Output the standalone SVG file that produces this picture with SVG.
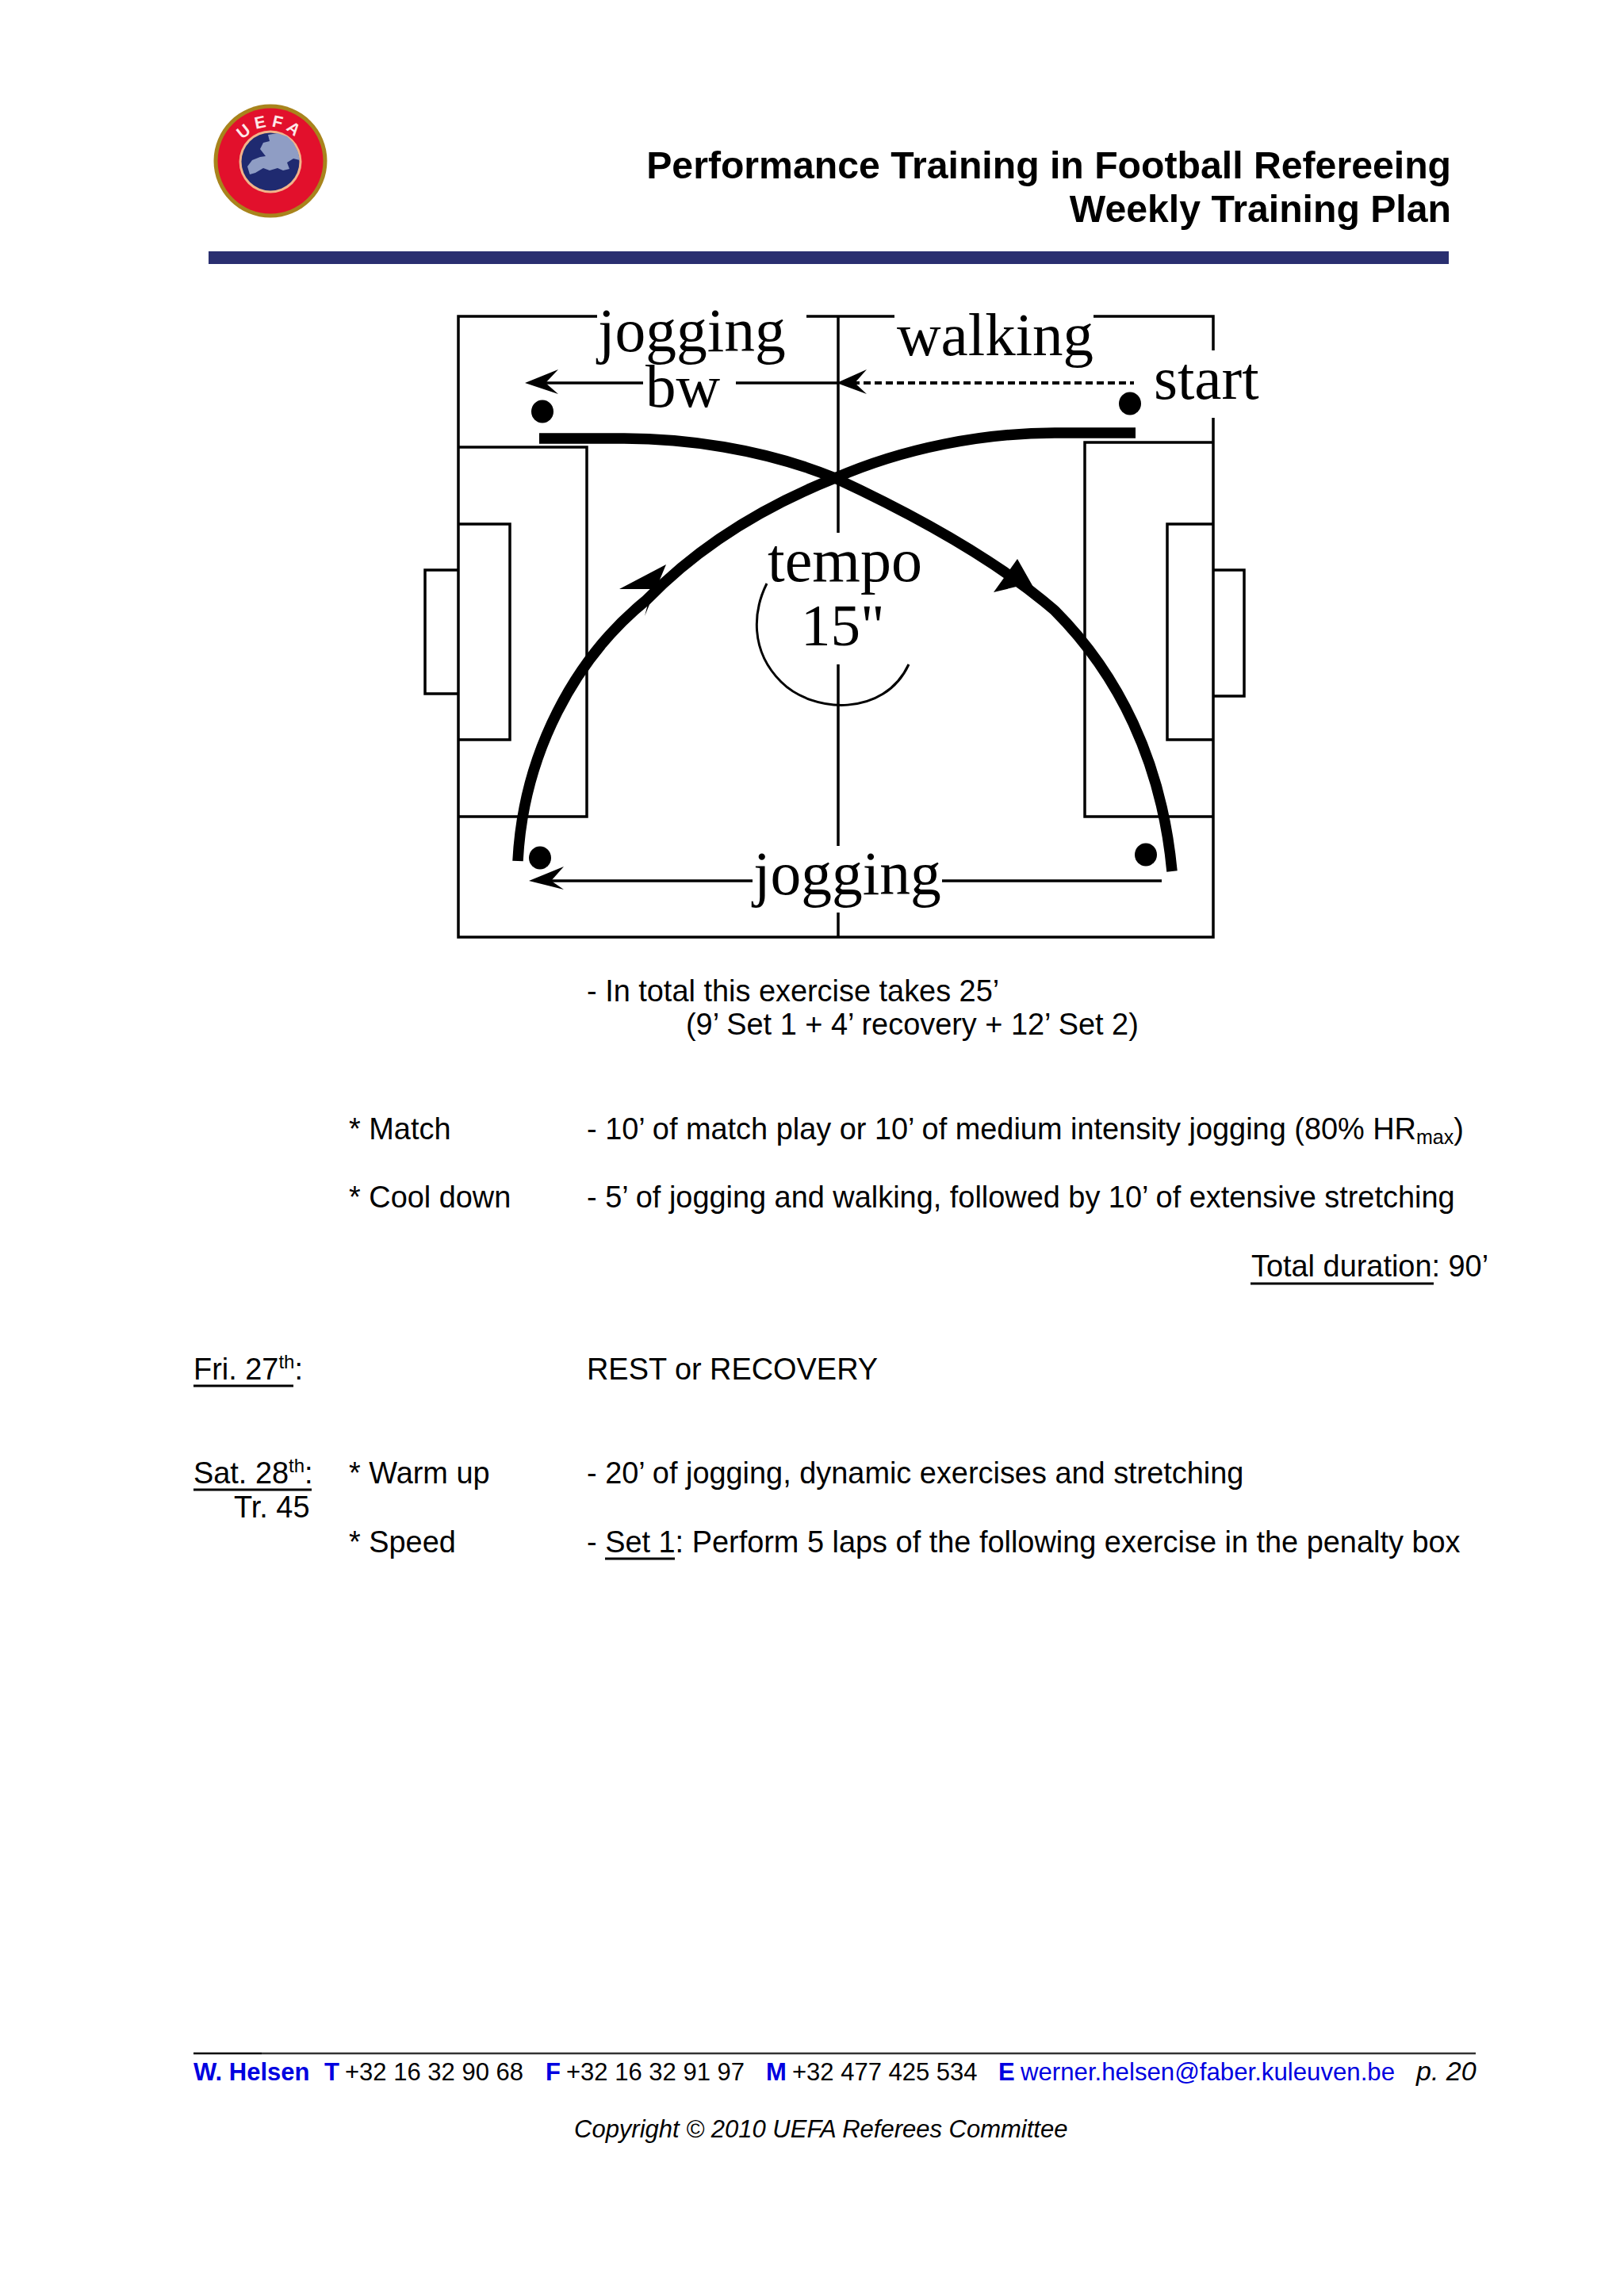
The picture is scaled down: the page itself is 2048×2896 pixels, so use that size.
<svg xmlns="http://www.w3.org/2000/svg" width="2048" height="2896" viewBox="0 0 2048 2896">
<style>
.b{font-family:"Liberation Sans",Arial,sans-serif;font-size:37.9px;fill:#000}
.h{font-family:"Liberation Sans",Arial,sans-serif;font-size:48.2px;font-weight:bold;fill:#000;text-anchor:end}
.t{font-family:"Liberation Serif","Times New Roman",serif;font-size:77px;fill:#000}
.f{font-family:"Liberation Sans",Arial,sans-serif;font-size:31px;fill:#000}
.fb{font-weight:bold;fill:#0000e0}
.m{fill:none;stroke:#000;stroke-width:3.5}
.k{fill:none;stroke:#000;stroke-width:13.5;stroke-linejoin:round}
.a{fill:#000;stroke:none}
.u{stroke:#000;stroke-width:3}
</style>
<rect width="2048" height="2896" fill="#fff"/>
<g id="logo">
<circle cx="341" cy="203" r="71.5" fill="#a8841c"/>
<circle cx="341" cy="203" r="66.5" fill="#e2102c"/>
<circle cx="341" cy="204" r="39.500" fill="#f2b48a"/>
<circle cx="341" cy="204" r="36.500" fill="#1f2a70"/>
<path d="M338 170L350 168L362 172L370 180L376 192L378 202L370 200L362 205L365 213L357 215L350 212L340 215L332 212L322 218L315 220L312 210L318 202L328 198L335 197L328 188L332 180L340 178Z" fill="#8f9dc4"/>
<path id="logoArc" d="M297 204A44 44 0 0 1 385 204" fill="none"/>
<text font-family="'Liberation Sans',Arial,sans-serif" font-size="21" font-weight="bold" fill="#fde8e8" letter-spacing="6" text-anchor="middle"><textPath href="#logoArc" startOffset="50%">UEFA</textPath></text>
</g>
<g id="header">
<text class="h" x="1830" y="225">Performance Training in Football Refereeing</text>
<text class="h" x="1830" y="280">Weekly Training Plan</text>
<rect x="263" y="317" width="1564" height="16" fill="#2a2f70"/>
</g>
<g id="pitch">
<path class="m" d="M753 399H578V1182H1530V527M1530 442V399H1379M1128 399H1017"/>
<path class="m" d="M578 564H740V1030H578"/>
<path class="m" d="M1530 558H1368V1030H1530"/>
<path class="m" d="M578 661H643V933H578"/>
<path class="m" d="M1530 661H1472V933H1530"/>
<path class="m" d="M578 719H536V875H578"/>
<path class="m" d="M1530 719H1569V878H1530"/>
<path class="m" d="M1057 399V672M1057 838V1067M1057 1151V1182"/>
<path class="m" style="stroke-width:3" d="M967 736C950 770 945 820 985 860C1025 900 1115 905 1146 838"/>
</g>
<g id="connectors">
<path class="m" d="M680 483H811M928 483H1057"/>
<path class="m" style="stroke-width:4" stroke-dasharray="9 5" d="M1075 483H1430"/>
<path class="a" d="M662 483L704 466L688 483L704 497Z"/>
<path class="a" d="M1055 483L1093 466L1078 483L1093 497Z"/>
<path class="m" d="M690 1111H949M1188 1111H1465"/>
<path class="a" d="M667 1111L711 1093L695 1111L711 1122Z"/>
<path class="k" d="M680 553H787C860 553 960 565 1053 603C1150 648 1255 705 1330 770C1410 850 1465 960 1478 1099"/>
<path class="k" d="M1432 546H1330C1240 546 1140 565 1053 603C960 640 880 690 815 757C725 830 660 950 653 1086"/>
<path class="a" d="M840 712L781 743L822 743L813 777Z"/>
<path class="a" d="M1283 705L1253 747L1290 738L1313 758Z"/>
</g>
<g id="markers">
<ellipse cx="684" cy="519" rx="14" ry="14.500"/>
<ellipse cx="1425" cy="509" rx="14" ry="14.500"/>
<ellipse cx="681" cy="1082" rx="14" ry="14.500"/>
<ellipse cx="1445" cy="1078" rx="14" ry="14.500"/>
</g>
<g id="pitch-labels">
<text class="t" x="754" y="443" style="font-size:77.5px">jogging</text>
<text class="t" x="814" y="513">bw</text>
<text class="t" x="1131" y="448">walking</text>
<text class="t" x="1455" y="503">start</text>
<text class="t" x="968" y="733" style="font-size:78px">tempo</text>
<text class="t" x="1010" y="814" style="font-size:75px">15"</text>
<text class="t" x="950" y="1128" style="font-size:77.5px">jogging</text>
</g>
<g id="body">
<text class="b" x="740" y="1263">- In total this exercise takes 25’</text>
<text class="b" x="865" y="1305">(9’ Set 1 + 4’ recovery + 12’ Set 2)</text>
<text class="b" x="440" y="1437">* Match</text>
<text class="b" x="740" y="1437">- 10’ of match play or 10’ of medium intensity jogging (80% HR<tspan font-size="25" dy="6">max</tspan><tspan dy="-6">)</tspan></text>
<text class="b" x="440" y="1523">* Cool down</text>
<text class="b" x="740" y="1523">- 5’ of jogging and walking, followed by 10’ of extensive stretching</text>
<text class="b" x="1578" y="1610">Total duration: 90’</text>
<line class="u" x1="1577" y1="1619" x2="1808" y2="1619"/>
<text class="b" x="244" y="1740">Fri. 27<tspan font-size="24" dy="-14">th</tspan><tspan dy="14">:</tspan></text>
<line class="u" x1="244" y1="1748" x2="370" y2="1748"/>
<text class="b" x="740" y="1740">REST or RECOVERY</text>
<text class="b" x="244" y="1871">Sat. 28<tspan font-size="24" dy="-14">th</tspan><tspan dy="14">:</tspan></text>
<line class="u" x1="244" y1="1879" x2="393" y2="1879"/>
<text class="b" x="295" y="1914">Tr. 45</text>
<text class="b" x="440" y="1871">* Warm up</text>
<text class="b" x="740" y="1871">- 20’ of jogging, dynamic exercises and stretching</text>
<text class="b" x="440" y="1958">* Speed</text>
<text class="b" x="740" y="1958">- Set 1: Perform 5 laps of the following exercise in the penalty box</text>
<line class="u" x1="763" y1="1966" x2="851" y2="1966"/>
</g>
<g id="footer">
<line x1="244" y1="2590" x2="330" y2="2590" stroke="#000" stroke-width="2.500"/>
<line x1="330" y1="2590" x2="1861" y2="2590" stroke="#333" stroke-width="2.500"/>
<text class="f fb" x="244" y="2624">W. Helsen</text>
<text class="f fb" x="409" y="2624">T</text>
<text class="f" x="435" y="2624">+32 16 32 90 68</text>
<text class="f fb" x="688" y="2624">F</text>
<text class="f" x="714" y="2624">+32 16 32 91 97</text>
<text class="f fb" x="966" y="2624">M</text>
<text class="f" x="999" y="2624">+32 477 425 534</text>
<text class="f fb" x="1259" y="2624">E</text>
<text class="f" x="1287" y="2624" style="fill:#0000e0;font-size:31.200px">werner.helsen@faber.kuleuven.be</text>
<text class="f" x="1786" y="2624" font-style="italic" style="font-size:34px">p. 20</text>
<text class="f" x="724" y="2696" font-style="italic">Copyright © 2010 UEFA Referees Committee</text>
</g>
</svg>
